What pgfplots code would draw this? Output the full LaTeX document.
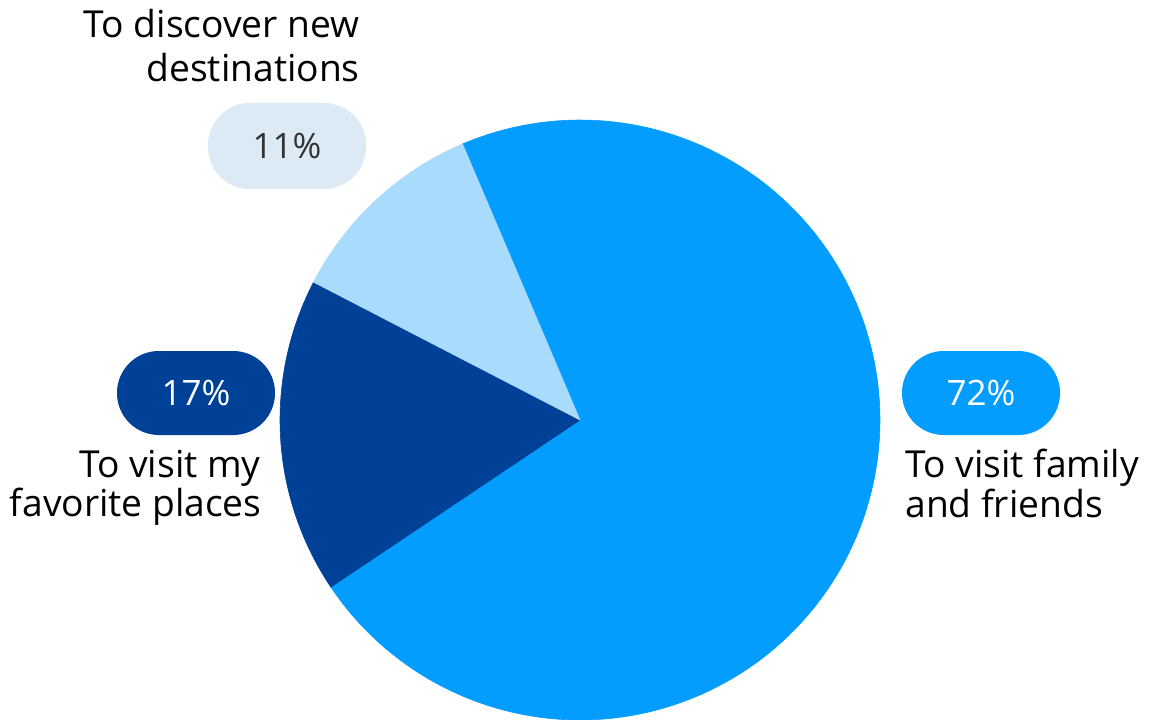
\documentclass[border=0pt]{standalone}
\usepackage{pgfplots}
\pgfplotsset{compat=1.18}
\usepackage{fontspec}
\setmainfont{Open Sans}
\definecolor{cFam}{HTML}{039CFF}
\definecolor{cFav}{HTML}{004198}
\definecolor{cDis}{HTML}{A9DBFD}
\definecolor{cPill}{HTML}{DBEAF5}
\definecolor{cGray}{HTML}{333333}
% shares (percent)
\def\vFam{72}
\def\vFav{17}
\def\vDis{11}
\pgfmathsetmacro\aA{113.05}
\pgfmathsetmacro\aB{\aA-3.6*\vFam}
\pgfmathsetmacro\aC{\aB-3.6*\vFav}
\pgfmathsetmacro\aD{\aC-3.6*\vDis}
\begin{document}
\begin{tikzpicture}
\begin{axis}[
  x=0.5pt, y=0.5pt,
  xmin=0, xmax=1157, ymin=0, ymax=719,
  scale only axis, hide axis,
]
\addplot[draw=cFam, line width=0.3pt, fill=cFam, domain=\aB:\aA, samples=150]
  ({580+300*cos(x)},{299+300*sin(x)}) -- (axis cs:580,299) -- cycle;
\addplot[draw=cFav, line width=0.3pt, fill=cFav, domain=\aC:\aB, samples=60]
  ({580+300*cos(x)},{299+300*sin(x)}) -- (axis cs:580,299) -- cycle;
\addplot[draw=cDis, line width=0.3pt, fill=cDis, domain=\aD:\aC, samples=60]
  ({580+300*cos(x)},{299+300*sin(x)}) -- (axis cs:580,299) -- cycle;
\path (rel axis cs:0,0) rectangle (rel axis cs:1,1);
\end{axis}
% labels (in px units of the canvas, 0.5pt per px)
\begin{scope}[x=0.5pt,y=0.5pt, every node/.style={inner sep=0pt, font=\fontsize{18.6}{22}\selectfont}]
\begin{scope}[every node/.append style={font=\fontsize{17.5}{21}\selectfont}]
\node[fill=cPill, rounded corners=20.9pt, minimum width=79pt, minimum height=43pt, text=cGray] at (287,573) {\vDis\%};
\node[fill=cFav, rounded corners=20.9pt, minimum width=79pt, minimum height=42pt, text=white] at (196,326) {\vFav\%};
\node[fill=cFam, rounded corners=20.9pt, minimum width=79pt, minimum height=42pt, text=white] at (981,326) {\vFam\%};
\end{scope}
\node[anchor=base east] at (360,681) {To discover new};
\node[anchor=base east] at (360,637) {destinations};
\node[anchor=base east] at (261,242) {To visit my};
\node[anchor=base east] at (262,203) {favorite places};
\node[anchor=base west] at (905,242) {To visit family};
\node[anchor=base west] at (905,202) {and friends};
\end{scope}
\end{tikzpicture}
\end{document}
